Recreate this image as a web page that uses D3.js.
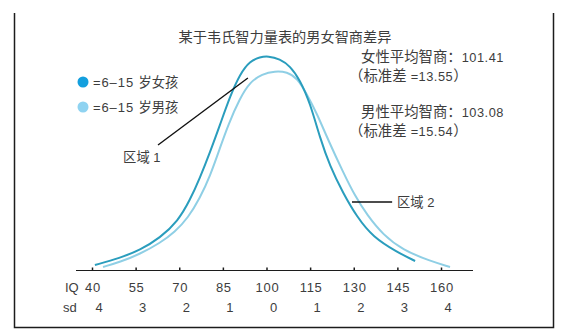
<!DOCTYPE html>
<html>
<head>
<meta charset="utf-8">
<script src="https://cdn.jsdelivr.net/npm/d3@7"></script>
<style>
  html, body { margin: 0; padding: 0; background: #fff; }
  svg { display: block; }
  text { fill: #3d3d3d; font-family: "Liberation Sans", "Noto Sans CJK SC", sans-serif; }
  tspan.han { font-family: "Noto Sans CJK SC", sans-serif; }
</style>
</head>
<body>
<div id="chart"></div>
<script>
// IQ distribution (relative height, female peak = 100), 6-15 year olds, WISC
const femaleIQ = [41.0, 49.6, 56.5, 63.4, 69.6, 73.7, 77.1, 80.6, 84.0, 87.5, 90.9, 94.3, 97.8, 100.5,
                  104.6, 108.1, 111.5, 115.0, 118.4, 121.8, 126.3, 131.1, 136.6, 144.9, 151.1];
const femaleRel = [1.4, 4.7, 8.5, 14.2, 22.2, 32.1, 42.5, 54.7, 67.5, 81.1, 91.5, 97.6, 99.5, 100,
                   98.6, 95.3, 88.7, 77.8, 61.3, 48.1, 35.4, 24.1, 14.6, 7.5, 3.3];
const maleIQ = [43.8, 49.6, 56.5, 63.4, 68.5, 73.0, 77.1, 80.6, 84.0, 86.8, 90.9, 94.3, 98.5, 102.9,
                107.1, 110.5, 113.9, 117.4, 121.2, 126.3, 130.4, 134.6, 140.1, 146.9, 156.2, 163.1];
const maleRel = [0.5, 2.8, 6.6, 11.8, 17.0, 23.6, 33.0, 43.4, 56.6, 67.5, 80.2, 87.7, 91.5, 92.9,
                 92.5, 89.6, 82.1, 72.6, 60.4, 45.3, 34.0, 25.0, 15.6, 8.5, 3.3, 0.5];

// axis ticks: IQ scores and the matching distance in standard deviations
const iqTicks = [40, 55, 70, 85, 100, 115, 130, 145, 160];
const sdLabels = ["4", "3", "2", "1", "0", "1", "2", "3", "4"];

const titleText = "某于韦氏智力量表的男女智商差异";
const legendLabels = ["=6–15 岁女孩", "=6–15 岁男孩"];
const statLines = ["女性平均智商：101.41", "（标准差 =13.55）", "男性平均智商：103.08", "（标准差 =15.54）"];

// callouts in data units: [fromIQ, fromRel, toIQ, toRel, label, labelIQ, labelRel]
const callouts = [
  [62.7, 58.0, 93.6, 89.6, "区域 1", 50.7, 52.4],
  [129.4, 31.1, 143.2, 31.1, "区域 2", 144.9, 31.1]
];

const W = 566, H = 335;
const darkLine = "#2a9dbd", lightLine = "#8fcfe5";
const darkDot = "#139fde", lightDot = "#8fd3f1";

const svg = d3.select("#chart").append("svg").attr("width", W).attr("height", H);

const x = d3.scaleLinear().domain([40, 160]).range([92, 441]);
const y = d3.scaleLinear().domain([0, 100]).range([268, 56]);

// write a label as runs: Han characters / full-width punctuation vs. Latin text,
// all on one shared alphabetic baseline
const hanRe = /[\u3000-\u303f\u3400-\u9fff\uff00-\uffef]/;
function richText(sel, hanSize, latinSize, latinSpacing) {
  sel.each(function (d) {
    const str = typeof d === "string" ? d : d[4];
    const runs = [];
    for (const ch of str) {
      const han = hanRe.test(ch);
      if (runs.length && runs[runs.length - 1].han === han) runs[runs.length - 1].s += ch;
      else runs.push({ han, s: ch });
    }
    d3.select(this).selectAll("tspan").data(runs).join("tspan")
      .attr("class", r => r.han ? "han" : null)
      .style("font-size", r => (r.han ? hanSize : latinSize) + "px")
      .style("letter-spacing", r => r.han ? null : (latinSpacing || 0) + "px")
      .text(r => r.s);
  });
}

// frame: left, bottom, right
svg.append("path")
  .attr("d", "M14.5,13 V327.5 H553.5 V13")
  .attr("fill", "none").attr("stroke", "#1c1c1c").attr("stroke-width", 1.5);

// title
svg.append("text")
  .attr("x", 285).attr("y", 36).attr("text-anchor", "middle").attr("dominant-baseline", "central")
  .style("font-family", "'Noto Sans CJK SC', sans-serif")
  .style("font-size", "14.2px").text(titleText);

// curves
const line = d3.line()
  .x(d => x(d[0])).y(d => y(d[1]))
  .curve(d3.curveBasis);

svg.append("path")
  .datum(maleIQ.map((v, i) => [v, maleRel[i]]))
  .attr("d", line).attr("fill", "none")
  .attr("stroke", lightLine).attr("stroke-width", 2);

svg.append("path")
  .datum(femaleIQ.map((v, i) => [v, femaleRel[i]]))
  .attr("d", line).attr("fill", "none")
  .attr("stroke", darkLine).attr("stroke-width", 2);

// axis
const axisY = 270;
svg.append("line")
  .attr("x1", x(34.5)).attr("x2", x(171))
  .attr("y1", axisY + 0.5).attr("y2", axisY + 0.5)
  .attr("stroke", "#1c1c1c").attr("stroke-width", 1.2);

const axis = svg.append("g").attr("transform", `translate(0,${axisY})`)
  .call(d3.axisBottom(x).tickValues(iqTicks).tickSizeInner(-2.5).tickSizeOuter(0).tickFormat(""));
axis.select(".domain").remove();
axis.selectAll(".tick line").attr("stroke", "#1c1c1c").attr("stroke-width", 1.5);

svg.append("g").selectAll("text").data(iqTicks).join("text")
  .attr("x", d => x(d) + 1).attr("y", 287)
  .attr("text-anchor", "middle").attr("dominant-baseline", "central")
  .style("font-size", "13px").style("letter-spacing", "0.7px")
  .text(d => d);

svg.append("g").selectAll("text").data(sdLabels).join("text")
  .attr("x", (d, i) => x(iqTicks[i]) + 7).attr("y", 307)
  .attr("text-anchor", "middle").attr("dominant-baseline", "central")
  .style("font-size", "13px")
  .text(d => d);

svg.append("text").attr("x", 65).attr("y", 287)
  .attr("dominant-baseline", "central").style("font-size", "13px").text("IQ");
svg.append("text").attr("x", 63).attr("y", 307)
  .attr("dominant-baseline", "central").style("font-size", "13px").text("sd");

// legend
const legend = svg.append("g").selectAll("g").data(legendLabels).join("g")
  .attr("transform", (d, i) => `translate(83,${82 + i * 25})`);
legend.append("circle").attr("r", 5.5).attr("fill", (d, i) => i === 0 ? darkDot : lightDot);
legend.append("text")
  .attr("x", 10).attr("y", 5)
  .call(richText, 13.3, 13, 0.9);

// mean / standard deviation notes
svg.append("g").selectAll("text").data(statLines).join("text")
  .attr("x", (d, i) => i % 2 === 0 ? 361 : 349)
  .attr("y", (d, i) => [57, 76, 112, 131][i] + 5.3)
  .call(richText, 14.4, 12.8, 0.5);

// region callouts
const co = svg.append("g").selectAll("g").data(callouts).join("g");
co.append("line")
  .attr("x1", d => x(d[0])).attr("y1", d => y(d[1]))
  .attr("x2", d => x(d[2])).attr("y2", d => y(d[3]))
  .attr("stroke", "#111").attr("stroke-width", 1.4);
co.append("text")
  .attr("x", d => x(d[5])).attr("y", d => y(d[6]) + 5)
  .call(richText, 13.3, 13, 0);
</script>
</body>
</html>
